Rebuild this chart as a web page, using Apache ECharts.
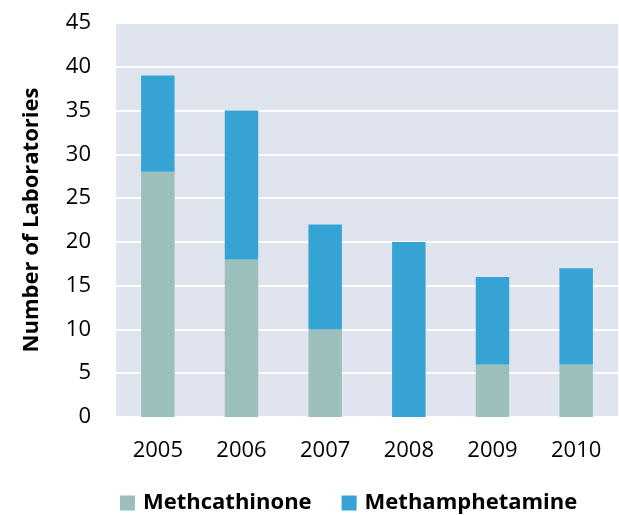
<!DOCTYPE html>
<html><head><meta charset="utf-8">
<script src="https://cdn.jsdelivr.net/npm/echarts@6/dist/echarts.min.js"></script>
<style>html,body{margin:0;padding:0;background:#fff}#c{width:619px;height:515px}</style>
</head><body><div id="c"></div>
<script>
const years = ['2005','2006','2007','2008','2009','2010'];
const methcathinone = [28, 18, 10, 0, 6, 6];
const methamphetamine = [11, 17, 12, 20, 10, 11];
const yTicks = [0, 5, 10, 15, 20, 25, 30, 35, 40, 45];

const font = "'Open Sans', 'Noto Sans', sans-serif";
const chart = echarts.init(document.getElementById('c'));
chart.setOption({
  animation: false,
  textStyle: { fontFamily: font },
  grid: { left: 116, right: 1, top: 23, bottom: 98, backgroundColor: '#E0E4EF', show: true, borderWidth: 0 },
  legend: {
    top: 492, left: 120, itemWidth: 15, itemHeight: 15, itemGap: 30, icon: 'rect', padding: 0,
    textStyle: { fontSize: 22, fontWeight: 'bold', color: '#000', fontFamily: font, padding: [0, 0, 0, 3] },
    data: ['Methcathinone', 'Methamphetamine']
  },
  xAxis: {
    type: 'category', data: years,
    axisLine: { show: false }, axisTick: { show: false },
    axisLabel: { fontSize: 22, color: '#000', margin: 23, fontFamily: font }
  },
  yAxis: {
    type: 'value', min: 0, max: 45, interval: 5,
    name: 'Number of Laboratories', nameLocation: 'middle', nameGap: 73, nameRotate: 90,
    nameTextStyle: { fontSize: 22, fontWeight: 'bold', color: '#000', fontFamily: font },
    axisLine: { show: false }, axisTick: { show: false },
    axisLabel: { fontSize: 22, color: '#000', margin: 25, fontFamily: font,
      formatter: v => yTicks.includes(v) ? String(v) : '' },
    splitLine: { show: true, lineStyle: { color: '#FFFFFF', width: 2 } }
  },
  series: [
    { name: 'Methcathinone', type: 'bar', stack: 'a', barWidth: '40%', data: methcathinone,
      itemStyle: { color: '#9BBFBB' } },
    { name: 'Methamphetamine', type: 'bar', stack: 'a', barWidth: '40%', data: methamphetamine,
      itemStyle: { color: '#35A3D3' } }
  ]
});
</script></body></html>
